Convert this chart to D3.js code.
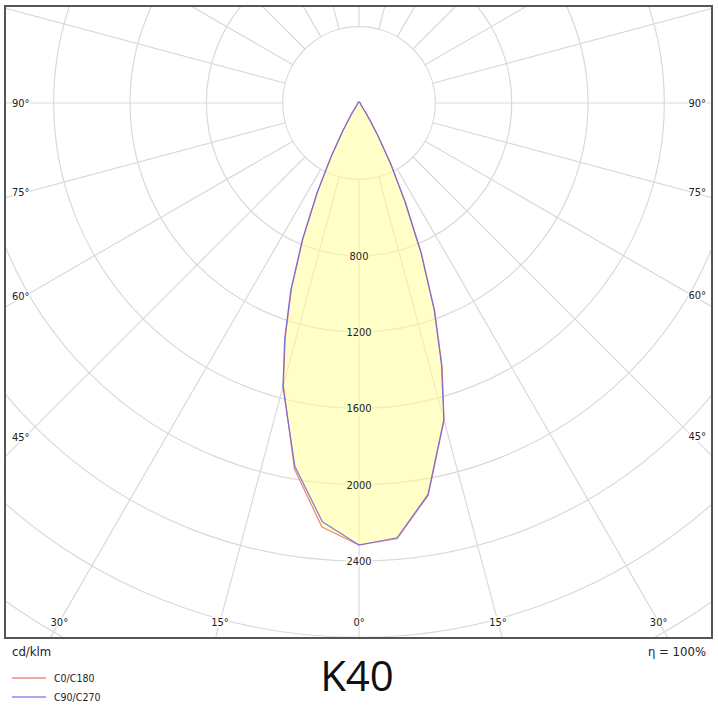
<!DOCTYPE html>
<html>
<head>
<meta charset="utf-8">
<script src="https://cdn.jsdelivr.net/npm/d3@7"></script>
<style>
	body { margin: 0; background: #fff; }
	.lbl { font-family: "DejaVu Sans Condensed", "DejaVu Sans", sans-serif; font-size: 11px; fill: #222; }
</style>
</head>
<body>
<div id="polar"></div>
<script>
//Chart data (cd/klm), angle measured from nadir
var gammaAngles = [0, 5, 10, 15, 17.5, 20, 22.5, 25, 27.5, 30, 32.5, 35, 37.5, 40, 45, 50, 55, 60, 65, 70, 75, 80, 85, 90,
	100, 110, 120, 130, 140, 150, 160, 170, 180];
var c0Values   = [2316, 2292, 2088, 1722, 1448, 1160, 858, 578, 366, 204, 108, 57, 36, 26, 16, 12, 10, 9, 9, 8, 8, 8, 8, 8, 6, 5, 5, 5, 5, 5, 5, 5, 5];
var c180Values = [2316, 2230, 1948, 1532, 1285, 1034, 764, 512, 308, 168, 92, 55, 36, 26, 16, 12, 10, 9, 9, 8, 8, 8, 8, 8, 6, 5, 5, 5, 5, 5, 5, 5, 5];
var c90Values  = [2316, 2287, 2083, 1718, 1438, 1150, 848, 568, 358, 198, 104, 56, 36, 26, 16, 12, 10, 9, 9, 8, 8, 8, 8, 8, 6, 5, 5, 5, 5, 5, 5, 5, 5];
var c270Values = [2316, 2203, 1934, 1540, 1295, 1046, 776, 524, 318, 176, 98, 58, 37, 26, 16, 12, 10, 9, 9, 8, 8, 8, 8, 8, 6, 5, 5, 5, 5, 5, 5, 5, 5];

var ringValues = [400, 800, 1200, 1600, 2000, 2400, 2800, 3200, 3600];
var ringLabels = [800, 1200, 1600, 2000, 2400];
var spokeAngles = d3.range(0, 360, 15);
var bottomLabels = [-30, -15, 0, 15, 30];
var sideLabels = [45, 60, 75, 90];

var legendNames = ["C0/C180", "C90/C270"];
var legendColors = ["#ef8a84", "#8a8aef"];
var curveColors = ["#f06c60", "#6464e6"];

//Layout
var width = 718, height = 718;
var frame = {left: 5, top: 6, right: 712, bottom: 638};
var cx = 359, cy = 103;
var fillColor = "#ffff99", fillOpacity = 0.55, fillOnWhite = "#ffffc7";

var svg = d3.select("#polar")
	.append("svg")
	.attr("width", width)
	.attr("height", height);

svg.append("defs").append("clipPath")
	.attr("id", "plotClip")
	.append("rect")
	.attr("x", frame.left)
	.attr("y", frame.top)
	.attr("width", frame.right - frame.left)
	.attr("height", frame.bottom - frame.top);

var rscale = d3.scaleLinear()
	.domain([0, 2400])
	.range([0, 458]);

var plot = svg.append("g")
	.attr("clip-path", "url(#plotClip)");

var grid = plot.append("g")
	.attr("transform", "translate(" + cx + "," + cy + ")");

//rings
grid.selectAll(".ring")
	.data(ringValues)
	.enter()
	.append("circle")
	.attr("class", "ring")
	.attr("r", function(d){ return rscale(d); })
	.attr("fill", "none")
	.attr("stroke", "#d9d9d9")
	.attr("stroke-width", 1.2);

//spokes, starting at the inner ring
grid.selectAll(".spoke")
	.data(spokeAngles)
	.enter()
	.append("line")
	.attr("class", "spoke")
	.attr("x1", function(d){ return rscale(400) * Math.sin(d * Math.PI / 180); })
	.attr("y1", function(d){ return rscale(400) * Math.cos(d * Math.PI / 180); })
	.attr("x2", function(d){ return rscale(4400) * Math.sin(d * Math.PI / 180); })
	.attr("y2", function(d){ return rscale(4400) * Math.cos(d * Math.PI / 180); })
	.attr("stroke", "#d9d9d9")
	.attr("stroke-width", 1.2);

//build closed curves: right half (C0 / C90) then left half (C180 / C270)
function buildCurve(rightVals, leftVals){
	var pts = [];
	for (var i = gammaAngles.length - 1; i >= 0; i--) {
		pts.push([(180 - gammaAngles[i]) * Math.PI / 180, rscale(rightVals[i])]);
	}
	for (var j = 1; j < gammaAngles.length; j++) {
		pts.push([(180 + gammaAngles[j]) * Math.PI / 180, rscale(leftVals[j])]);
	}
	return pts;
}

var radial = d3.lineRadial()
	.angle(function(d){ return d[0]; })
	.radius(function(d){ return d[1]; })
	.curve(d3.curveLinearClosed);

var curves = [buildCurve(c0Values, c180Values), buildCurve(c90Values, c270Values)];

grid.append("path")
	.attr("d", radial(curves[0]))
	.attr("fill", fillColor)
	.attr("fill-opacity", fillOpacity)
	.attr("stroke", "none");

grid.selectAll(".curve")
	.data(curves)
	.enter()
	.append("path")
	.attr("class", "curve")
	.attr("d", function(d){ return radial(d); })
	.attr("fill", "none")
	.attr("stroke", function(d, i){ return curveColors[i]; })
	.attr("stroke-width", 1.2)
	.attr("stroke-linejoin", "round")
	.attr("stroke-opacity", 0.85);

//ring labels along nadir
grid.selectAll(".ringLabel")
	.data(ringLabels)
	.enter()
	.append("text")
	.attr("class", "lbl")
	.attr("x", 0)
	.attr("y", function(d){ return rscale(d); })
	.attr("dy", "0.35em")
	.attr("text-anchor", "middle")
	.attr("stroke", function(d){ return d < c0Values[0] ? fillOnWhite : "#fff"; })
	.attr("stroke-width", 3)
	.attr("paint-order", "stroke")
	.text(function(d){ return d; });

//angle labels at the bottom of the frame
var bottomY = 622;
plot.selectAll(".bottomLabel")
	.data(bottomLabels)
	.enter()
	.append("text")
	.attr("class", "lbl")
	.attr("x", function(d){ return cx + (bottomY - cy) * Math.tan(d * Math.PI / 180); })
	.attr("y", bottomY)
	.attr("dy", "0.35em")
	.attr("text-anchor", "middle")
	.attr("stroke", "#fff")
	.attr("stroke-width", 3)
	.attr("paint-order", "stroke")
	.text(function(d){ return Math.abs(d) + "°"; });

//angle labels on the sides
var sideInset = 20;
["left", "right"].forEach(function(side){
	plot.selectAll(".sideLabel-" + side)
		.data(sideLabels)
		.enter()
		.append("text")
		.attr("class", "lbl")
		.attr("x", side == "left" ? frame.left + 7 : frame.right - 6)
		.attr("y", function(d){
			var dx = side == "left" ? cx - (frame.left + sideInset) : (frame.right - sideInset) - cx;
			return cy + dx / Math.tan(d * Math.PI / 180);
		})
		.attr("dy", "0.35em")
		.attr("text-anchor", side == "left" ? "start" : "end")
		.attr("stroke", "#fff")
		.attr("stroke-width", 3)
		.attr("paint-order", "stroke")
		.text(function(d){ return d + "°"; });
});

//frame
svg.append("rect")
	.attr("x", frame.left)
	.attr("y", frame.top)
	.attr("width", frame.right - frame.left)
	.attr("height", frame.bottom - frame.top)
	.attr("fill", "none")
	.attr("stroke", "#555")
	.attr("stroke-width", 2);

//units and efficiency
svg.append("text")
	.attr("class", "lbl")
	.attr("x", 12)
	.attr("y", 656)
	.style("font-size", "13px")
	.text("cd/klm");

svg.append("text")
	.attr("class", "lbl")
	.attr("x", 706)
	.attr("y", 656)
	.attr("text-anchor", "end")
	.style("font-size", "13px")
	.text("η = 100%");

//legend
var legend = svg.selectAll(".legend")
	.data(legendNames)
	.enter()
	.append("g")
	.attr("class", "legend")
	.attr("transform", function(d, i){ return "translate(12," + (678 + i * 19) + ")"; });

legend.append("line")
	.attr("x1", 0)
	.attr("x2", 34)
	.attr("stroke", function(d, i){ return legendColors[i]; })
	.attr("stroke-width", 1.5);

legend.append("text")
	.attr("class", "lbl")
	.attr("x", 42)
	.attr("dy", "0.35em")
	.style("font-size", "10.5px")
	.text(function(d){ return d; });

//title
svg.append("text")
	.attr("x", 357)
	.attr("y", 691)
	.attr("text-anchor", "middle")
	.style("font-family", "'Open Sans', sans-serif")
	.style("font-size", "42px")
	.style("fill", "#111")
	.text("K40");
</script>
</body>
</html>
